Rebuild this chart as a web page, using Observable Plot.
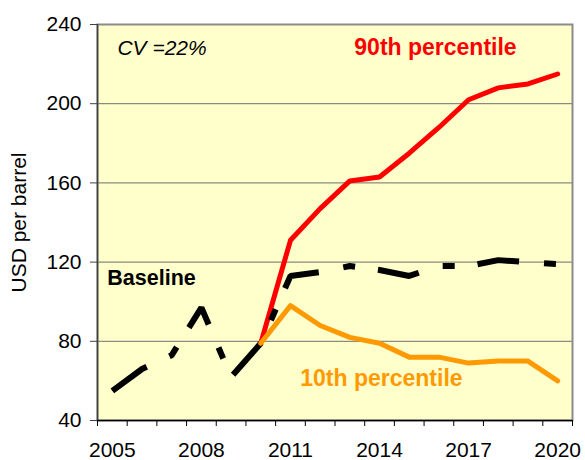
<!DOCTYPE html>
<html>
<head>
<meta charset="utf-8">
<script src="https://cdn.jsdelivr.net/npm/d3@7"></script>
<script src="https://cdn.jsdelivr.net/npm/@observablehq/plot@0.6"></script>
<style>
  html, body { margin: 0; padding: 0; background: white; }
</style>
</head>
<body>
<div id="chart"></div>
<script>
const years = [2005, 2006, 2007, 2008, 2009, 2010, 2011, 2012, 2013, 2014, 2015, 2016, 2017, 2018, 2019, 2020];
const baseline = [55, 66, 73, 97, 62, 79, 113, 115, 118, 116, 113, 118, 118, 121, 120, 119];
const pctYears = [2010, 2011, 2012, 2013, 2014, 2015, 2016, 2017, 2018, 2019, 2020];
const p90 = [79, 131, 147, 161, 163, 175, 188, 202, 208, 210, 215];
const p10 = [79, 98, 88, 82, 79, 72, 72, 69, 70, 70, 60];
const yTicks = [40, 80, 120, 160, 200, 240];
const gridValues = [80, 120, 160, 200];
const xTickLabels = [2005, 2008, 2011, 2014, 2017, 2020];

const baseData = years.map((y, i) => ({year: y, v: baseline[i]}));
const p90Data = pctYears.map((y, i) => ({year: y, v: p90[i]}));
const p10Data = pctYears.map((y, i) => ({year: y, v: p10[i]}));
const boundaries = years.map(y => y - 0.5).concat([years[years.length - 1] + 0.5]);
const xDomain = [years[0] - 0.5, years[years.length - 1] + 0.5];

const FONT = "Liberation Sans, Arial, Helvetica, sans-serif";

const chart = Plot.plot({
  width: 585,
  height: 460,
  marginLeft: 97,
  marginRight: 13,
  marginTop: 24,
  marginBottom: 40,
  style: {fontFamily: FONT, fontSize: "21px", background: "white", color: "black"},
  x: {type: "linear", domain: xDomain},
  y: {type: "linear", domain: [40, 240]},
  marks: [
    Plot.frame({fill: "#FFFFCC", stroke: null}),
    Plot.ruleY(gridValues, {stroke: "#6e6e6e", strokeWidth: 1}),
    Plot.frame({stroke: "#8a8a8a", strokeWidth: 2}),
    Plot.ruleX([xDomain[0]], {stroke: "#404040", strokeWidth: 1.5}),
    Plot.ruleY([40], {stroke: "black", strokeWidth: 1.5}),
    Plot.axisY(yTicks, {tickSize: 7, tickPadding: 9, tickFormat: d => String(d), label: null, fontSize: 21, stroke: "#404040"}),
    Plot.axisX(boundaries, {tickSize: 6, tickFormat: () => "", label: null, stroke: "black"}),
    Plot.axisX(xTickLabels, {tickSize: 0, tickPadding: 22, tickFormat: d => String(d), label: null, fontSize: 21}),
    Plot.line(p90Data, {x: "year", y: "v", stroke: "#FF0000", strokeWidth: 5, strokeLinejoin: "round", strokeLinecap: "round"}),
    Plot.line(baseData, {x: "year", y: "v", stroke: "black", strokeWidth: 6, strokeDasharray: "42,25,12,23", strokeLinecap: "butt", strokeLinejoin: "miter"}),
    Plot.line(p10Data, {x: "year", y: "v", stroke: "#FF9900", strokeWidth: 5, strokeLinejoin: "round", strokeLinecap: "round"}),
    Plot.text(["CV =22%"], {x: 2005.17, y: 228, text: d => d, textAnchor: "start", fontStyle: "italic", fontSize: 21, fill: "black"}),
    Plot.text(["90th percentile"], {x: 2013.15, y: 228.1, text: d => d, textAnchor: "start", fontWeight: "bold", fontSize: 23, fill: "#FF0000"}),
    Plot.text(["Baseline"], {x: 2004.83, y: 111.7, text: d => d, textAnchor: "start", fontWeight: "bold", fontSize: 21.5, fill: "black"}),
    Plot.text(["10th percentile"], {x: 2011.33, y: 61.4, text: d => d, textAnchor: "start", fontWeight: "bold", fontSize: 23, fill: "#FF9900"}),
    Plot.text(["USD per barrel"], {frameAnchor: "left", rotate: -90, dx: -78, text: d => d, textAnchor: "middle", fontSize: 21, fill: "black"})
  ]
});
document.getElementById("chart").appendChild(chart);
</script>
</body>
</html>
